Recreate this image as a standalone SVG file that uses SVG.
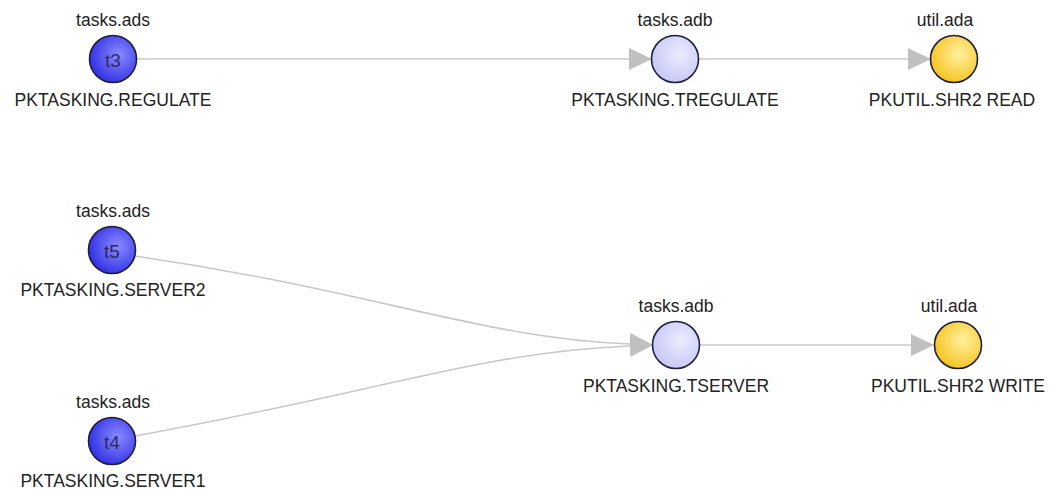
<svg xmlns="http://www.w3.org/2000/svg" width="1061" height="491" viewBox="0 0 1061 491">
  <style>
    .lbl { font-family: "Liberation Sans", Arial, sans-serif; font-size: 17.5px; fill: #222; text-anchor: middle; }
    .inner { font-family: "Liberation Sans", Arial, sans-serif; font-size: 19px; fill: #2a2a66; text-anchor: middle; }
    .node { stroke: #1e1e3c; stroke-width: 1.6; }
    .edge { fill: none; stroke: #c8c8c8; stroke-width: 1.6; }
  </style>
  <defs>
    <radialGradient id="gBlue" cx="0.62" cy="0.42" r="0.65">
      <stop offset="0" stop-color="#8a8aff"/>
      <stop offset="1" stop-color="#2e2ee4"/>
    </radialGradient>
    <radialGradient id="gLav" cx="0.6" cy="0.4" r="0.65">
      <stop offset="0" stop-color="#ececff"/>
      <stop offset="1" stop-color="#c6c6f6"/>
    </radialGradient>
    <radialGradient id="gYel" cx="0.6" cy="0.4" r="0.65">
      <stop offset="0" stop-color="#fff0a0"/>
      <stop offset="1" stop-color="#f6c21c"/>
    </radialGradient>
    <marker id="arr" markerUnits="userSpaceOnUse" markerWidth="24" markerHeight="22" refX="0" refY="11" orient="auto">
      <path d="M0,0 L23,11 L0,22 Z" fill="#c0c0c0"/>
    </marker>
  </defs>
  <rect width="1061" height="491" fill="#ffffff"/>

  <g id="connectors">
    <path class="edge" d="M137,59 L629,59" marker-end="url(#arr)"/>
    <path class="edge" d="M699,59 L908,59" marker-end="url(#arr)"/>
    <path class="edge" d="M135,256 C380,292 480,338 630,344" marker-end="url(#arr)"/>
    <path class="edge" d="M135,436 C380,392 480,352 630,346" marker-end="url(#arr)"/>
    <path class="edge" d="M700,345 L911,345" marker-end="url(#arr)"/>
  </g>

  <g id="node-t3">
    <text class="lbl" x="113" y="26">tasks.ads</text>
    <circle class="node" cx="113" cy="59" r="23.5" fill="url(#gBlue)"/>
    <text class="inner" x="113" y="67">t3</text>
    <text class="lbl" x="113" y="106">PKTASKING.REGULATE</text>
  </g>

  <g id="node-tregulate">
    <text class="lbl" x="675" y="26">tasks.adb</text>
    <circle class="node" cx="675" cy="59" r="23.5" fill="url(#gLav)"/>
    <text class="lbl" x="675" y="106">PKTASKING.TREGULATE</text>
  </g>

  <g id="node-read">
    <text class="lbl" x="945" y="26">util.ada</text>
    <circle class="node" cx="954" cy="59" r="23.5" fill="url(#gYel)"/>
    <text class="lbl" x="952" y="106">PKUTIL.SHR2 READ</text>
  </g>

  <g id="node-t5">
    <text class="lbl" x="113" y="217">tasks.ads</text>
    <circle class="node" cx="112" cy="250" r="23.5" fill="url(#gBlue)"/>
    <text class="inner" x="112" y="258">t5</text>
    <text class="lbl" x="113" y="296">PKTASKING.SERVER2</text>
  </g>

  <g id="node-t4">
    <text class="lbl" x="113" y="408">tasks.ads</text>
    <circle class="node" cx="112" cy="441" r="23.5" fill="url(#gBlue)"/>
    <text class="inner" x="112" y="449">t4</text>
    <text class="lbl" x="113" y="487">PKTASKING.SERVER1</text>
  </g>

  <g id="node-tserver">
    <text class="lbl" x="676" y="312">tasks.adb</text>
    <circle class="node" cx="676" cy="345" r="23.5" fill="url(#gLav)"/>
    <text class="lbl" x="676" y="392">PKTASKING.TSERVER</text>
  </g>

  <g id="node-write">
    <text class="lbl" x="949" y="312">util.ada</text>
    <circle class="node" cx="958" cy="345" r="23.5" fill="url(#gYel)"/>
    <text class="lbl" x="958" y="392">PKUTIL.SHR2 WRITE</text>
  </g>
</svg>
